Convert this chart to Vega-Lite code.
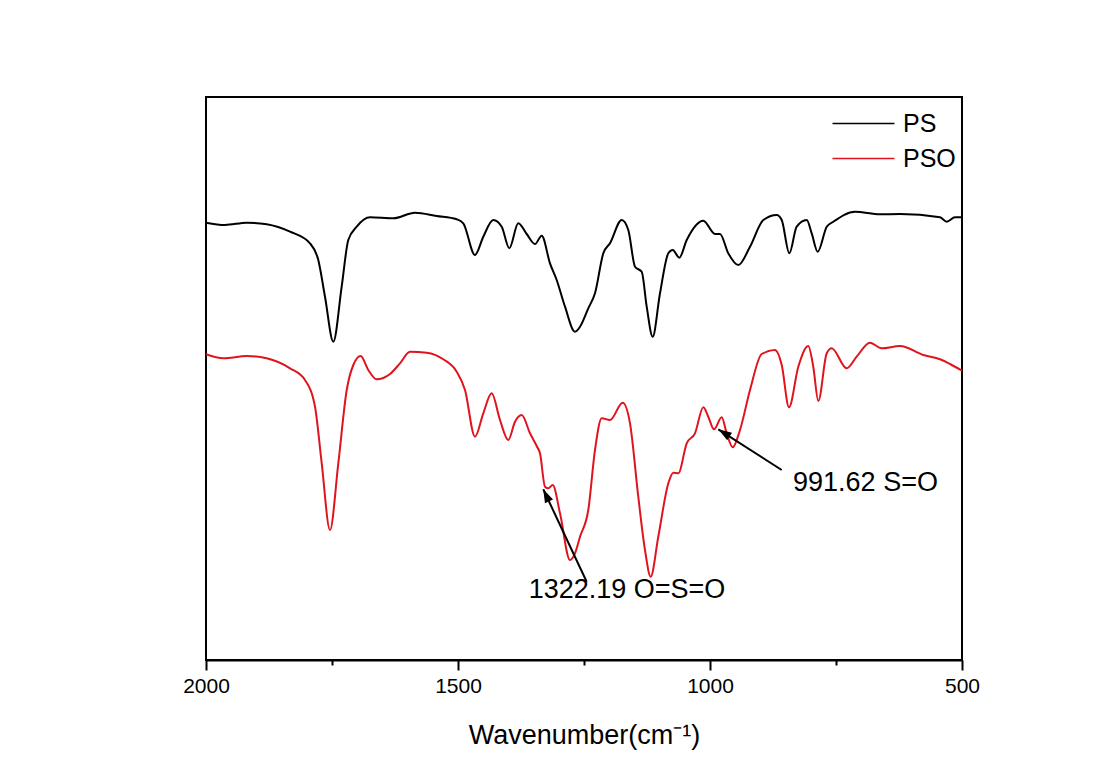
{
  "$schema": "https://vega.github.io/schema/vega-lite/v6.json",
  "width": 756,
  "height": 563,
  "autosize": {"type": "none"},
  "padding": {"left": 206, "top": 97, "right": 139, "bottom": 116},
  "background": "white",
  "config": {
    "view": {"stroke": "black", "strokeWidth": 2},
    "font": "Liberation Sans"
  },
  "datasets": {
    "spectra": [
      {"wn": 2000, "t": 437.3, "sample": "PS"},
      {"wn": 1962.3, "t": 435, "sample": "PS"},
      {"wn": 1919.2, "t": 437.3, "sample": "PS"},
      {"wn": 1879.6, "t": 435.7, "sample": "PS"},
      {"wn": 1833.3, "t": 428.3, "sample": "PS"},
      {"wn": 1793.7, "t": 416.7, "sample": "PS"},
      {"wn": 1777.2, "t": 400, "sample": "PS"},
      {"wn": 1763.9, "t": 363.3, "sample": "PS"},
      {"wn": 1747.4, "t": 318.3, "sample": "PS"},
      {"wn": 1730.8, "t": 373.3, "sample": "PS"},
      {"wn": 1717.7, "t": 420, "sample": "PS"},
      {"wn": 1701, "t": 433.3, "sample": "PS"},
      {"wn": 1674.6, "t": 442.7, "sample": "PS"},
      {"wn": 1628.4, "t": 441.7, "sample": "PS"},
      {"wn": 1585.3, "t": 447.3, "sample": "PS"},
      {"wn": 1542.3, "t": 444, "sample": "PS"},
      {"wn": 1502.6, "t": 440.7, "sample": "PS"},
      {"wn": 1489.5, "t": 436.7, "sample": "PS"},
      {"wn": 1466.3, "t": 405, "sample": "PS"},
      {"wn": 1449.8, "t": 423.3, "sample": "PS"},
      {"wn": 1430, "t": 440, "sample": "PS"},
      {"wn": 1413.3, "t": 433.3, "sample": "PS"},
      {"wn": 1398.2, "t": 411.7, "sample": "PS"},
      {"wn": 1380.4, "t": 436.7, "sample": "PS"},
      {"wn": 1363.7, "t": 426, "sample": "PS"},
      {"wn": 1347.2, "t": 416, "sample": "PS"},
      {"wn": 1333.9, "t": 424.3, "sample": "PS"},
      {"wn": 1317.5, "t": 396.7, "sample": "PS"},
      {"wn": 1304.2, "t": 380, "sample": "PS"},
      {"wn": 1287.7, "t": 353.3, "sample": "PS"},
      {"wn": 1267.9, "t": 328.3, "sample": "PS"},
      {"wn": 1257.9, "t": 333.3, "sample": "PS"},
      {"wn": 1241.5, "t": 351.7, "sample": "PS"},
      {"wn": 1228.2, "t": 366.7, "sample": "PS"},
      {"wn": 1211.7, "t": 406.7, "sample": "PS"},
      {"wn": 1198.4, "t": 416.7, "sample": "PS"},
      {"wn": 1175.2, "t": 440, "sample": "PS"},
      {"wn": 1162.1, "t": 430, "sample": "PS"},
      {"wn": 1148.8, "t": 393.3, "sample": "PS"},
      {"wn": 1135.5, "t": 388.3, "sample": "PS"},
      {"wn": 1125.6, "t": 353.3, "sample": "PS"},
      {"wn": 1113.7, "t": 323.3, "sample": "PS"},
      {"wn": 1099.2, "t": 366.7, "sample": "PS"},
      {"wn": 1082.7, "t": 406.7, "sample": "PS"},
      {"wn": 1074, "t": 410, "sample": "PS"},
      {"wn": 1060.9, "t": 402.3, "sample": "PS"},
      {"wn": 1046.2, "t": 420, "sample": "PS"},
      {"wn": 1013.3, "t": 439.3, "sample": "PS"},
      {"wn": 990.1, "t": 426, "sample": "PS"},
      {"wn": 980.2, "t": 426, "sample": "PS"},
      {"wn": 963.7, "t": 406.7, "sample": "PS"},
      {"wn": 943.8, "t": 395, "sample": "PS"},
      {"wn": 920.6, "t": 413.3, "sample": "PS"},
      {"wn": 894.2, "t": 440, "sample": "PS"},
      {"wn": 867.7, "t": 445, "sample": "PS"},
      {"wn": 857.7, "t": 440, "sample": "PS"},
      {"wn": 842.6, "t": 406.7, "sample": "PS"},
      {"wn": 828, "t": 433.3, "sample": "PS"},
      {"wn": 808.1, "t": 440, "sample": "PS"},
      {"wn": 798.2, "t": 426.7, "sample": "PS"},
      {"wn": 786.3, "t": 408.3, "sample": "PS"},
      {"wn": 768.4, "t": 433.3, "sample": "PS"},
      {"wn": 755.3, "t": 438.3, "sample": "PS"},
      {"wn": 712.3, "t": 448.3, "sample": "PS"},
      {"wn": 662.7, "t": 445.7, "sample": "PS"},
      {"wn": 623, "t": 446, "sample": "PS"},
      {"wn": 543.6, "t": 442.7, "sample": "PS"},
      {"wn": 530.3, "t": 438.3, "sample": "PS"},
      {"wn": 513.9, "t": 442.7, "sample": "PS"},
      {"wn": 500, "t": 442.7, "sample": "PS"},
      {"wn": 2000, "t": 305.7, "sample": "PSO"},
      {"wn": 1965.7, "t": 301.7, "sample": "PSO"},
      {"wn": 1919.2, "t": 304, "sample": "PSO"},
      {"wn": 1879.6, "t": 301.7, "sample": "PSO"},
      {"wn": 1833.3, "t": 291.7, "sample": "PSO"},
      {"wn": 1803.6, "t": 280, "sample": "PSO"},
      {"wn": 1783.7, "t": 253.3, "sample": "PSO"},
      {"wn": 1770.4, "t": 196.7, "sample": "PSO"},
      {"wn": 1754, "t": 130, "sample": "PSO"},
      {"wn": 1737.5, "t": 196.7, "sample": "PSO"},
      {"wn": 1720.8, "t": 270, "sample": "PSO"},
      {"wn": 1707.7, "t": 295, "sample": "PSO"},
      {"wn": 1693.1, "t": 304, "sample": "PSO"},
      {"wn": 1678, "t": 290, "sample": "PSO"},
      {"wn": 1661.3, "t": 280.7, "sample": "PSO"},
      {"wn": 1634.9, "t": 286, "sample": "PSO"},
      {"wn": 1615.1, "t": 296.7, "sample": "PSO"},
      {"wn": 1595.2, "t": 308.3, "sample": "PSO"},
      {"wn": 1562.1, "t": 307.3, "sample": "PSO"},
      {"wn": 1529.2, "t": 300.7, "sample": "PSO"},
      {"wn": 1502.6, "t": 288.3, "sample": "PSO"},
      {"wn": 1486.1, "t": 270, "sample": "PSO"},
      {"wn": 1466.3, "t": 223.3, "sample": "PSO"},
      {"wn": 1449.8, "t": 246.7, "sample": "PSO"},
      {"wn": 1433.2, "t": 266.7, "sample": "PSO"},
      {"wn": 1416.7, "t": 240, "sample": "PSO"},
      {"wn": 1400.2, "t": 220, "sample": "PSO"},
      {"wn": 1386.9, "t": 238.3, "sample": "PSO"},
      {"wn": 1373.6, "t": 245, "sample": "PSO"},
      {"wn": 1357.1, "t": 226.7, "sample": "PSO"},
      {"wn": 1343.9, "t": 214, "sample": "PSO"},
      {"wn": 1337.3, "t": 206.7, "sample": "PSO"},
      {"wn": 1327.4, "t": 173.3, "sample": "PSO"},
      {"wn": 1320.8, "t": 171.7, "sample": "PSO"},
      {"wn": 1312.1, "t": 175, "sample": "PSO"},
      {"wn": 1297.6, "t": 146.7, "sample": "PSO"},
      {"wn": 1277.8, "t": 100, "sample": "PSO"},
      {"wn": 1267.9, "t": 106.7, "sample": "PSO"},
      {"wn": 1257.9, "t": 123.3, "sample": "PSO"},
      {"wn": 1241.5, "t": 150, "sample": "PSO"},
      {"wn": 1228.2, "t": 210, "sample": "PSO"},
      {"wn": 1214.9, "t": 241.7, "sample": "PSO"},
      {"wn": 1198.4, "t": 240, "sample": "PSO"},
      {"wn": 1173.2, "t": 257.3, "sample": "PSO"},
      {"wn": 1158.7, "t": 236.7, "sample": "PSO"},
      {"wn": 1142.3, "t": 163.3, "sample": "PSO"},
      {"wn": 1129, "t": 110, "sample": "PSO"},
      {"wn": 1117.7, "t": 83.3, "sample": "PSO"},
      {"wn": 1102.6, "t": 123.3, "sample": "PSO"},
      {"wn": 1082.7, "t": 176.7, "sample": "PSO"},
      {"wn": 1072.8, "t": 187.3, "sample": "PSO"},
      {"wn": 1062.9, "t": 186.7, "sample": "PSO"},
      {"wn": 1046.2, "t": 216.7, "sample": "PSO"},
      {"wn": 1029.8, "t": 226.7, "sample": "PSO"},
      {"wn": 1013.3, "t": 252.7, "sample": "PSO"},
      {"wn": 1003.4, "t": 243.3, "sample": "PSO"},
      {"wn": 992.1, "t": 230.7, "sample": "PSO"},
      {"wn": 976.8, "t": 242.7, "sample": "PSO"},
      {"wn": 966.9, "t": 226.7, "sample": "PSO"},
      {"wn": 955, "t": 212.7, "sample": "PSO"},
      {"wn": 940.5, "t": 230, "sample": "PSO"},
      {"wn": 920.6, "t": 270, "sample": "PSO"},
      {"wn": 897.4, "t": 306, "sample": "PSO"},
      {"wn": 871, "t": 310, "sample": "PSO"},
      {"wn": 857.7, "t": 295, "sample": "PSO"},
      {"wn": 843.3, "t": 252.7, "sample": "PSO"},
      {"wn": 824.8, "t": 293.3, "sample": "PSO"},
      {"wn": 805, "t": 314, "sample": "PSO"},
      {"wn": 795.1, "t": 293.3, "sample": "PSO"},
      {"wn": 785.1, "t": 259, "sample": "PSO"},
      {"wn": 768.4, "t": 306.7, "sample": "PSO"},
      {"wn": 758.6, "t": 311.7, "sample": "PSO"},
      {"wn": 728.8, "t": 291.7, "sample": "PSO"},
      {"wn": 709, "t": 303.3, "sample": "PSO"},
      {"wn": 682.6, "t": 317.3, "sample": "PSO"},
      {"wn": 659.4, "t": 311.7, "sample": "PSO"},
      {"wn": 623, "t": 314, "sample": "PSO"},
      {"wn": 576.8, "t": 305, "sample": "PSO"},
      {"wn": 543.6, "t": 300.7, "sample": "PSO"},
      {"wn": 523.8, "t": 296, "sample": "PSO"},
      {"wn": 500, "t": 289.3, "sample": "PSO"}
    ],
    "notes": [
      {"id": "a", "label": "1322.19 O=S=O", "tipWn": 1330.8, "tipT": 170.7, "tailWn": 1244.7, "tailT": 78.3, "textWn": 1164.7, "textT": 70},
      {"id": "b", "label": "991.62 S=O", "tipWn": 983.5, "tipT": 230.7, "tailWn": 857.7, "tailT": 190, "textWn": 691.5, "textT": 177}
    ]
  },
  "resolve": {"axis": {"x": "independent"}},
  "layer": [
    {
      "data": {"name": "spectra"},
      "mark": {"type": "line", "strokeWidth": 2, "interpolate": "monotone"},
      "encoding": {
        "x": {
          "field": "wn", "type": "quantitative",
          "scale": {"domain": [500, 2000], "reverse": true, "nice": false, "zero": false},
          "axis": {
            "orient": "bottom",
            "values": [2000, 1500, 1000, 500],
            "format": "d",
            "title": "Wavenumber(cm⁻¹)",
            "grid": false,
            "domainColor": "black", "domainWidth": 2,
            "tickColor": "black", "tickWidth": 2, "tickSize": 10,
            "labelColor": "black", "labelFontSize": 21, "labelFont": "Liberation Sans",
            "labelPadding": 5, "labelFlush": false, "labelOverlap": false,
            "titleColor": "black", "titleFontSize": 27, "titleFont": "Liberation Sans",
            "titleFontWeight": "normal", "titlePadding": 26
          }
        },
        "y": {
          "field": "t", "type": "quantitative",
          "scale": {"domain": [0, 563], "nice": false, "zero": false},
          "axis": null
        },
        "color": {
          "field": "sample", "type": "nominal",
          "scale": {"domain": ["PS", "PSO"], "range": ["#000000", "#e0141c"]},
          "legend": {
            "orient": "none", "legendX": 641, "legendY": 10,
            "title": null,
            "symbolType": "M-2,0L2,0", "symbolSize": 961, "symbolStrokeWidth": 1.6,
            "symbolFillColor": "transparent",
            "labelFontSize": 25, "labelFont": "Liberation Sans", "labelColor": "black",
            "labelOffset": 23, "rowPadding": 5
          }
        }
      }
    },
    {
      "data": {"name": "notes"},
      "mark": {"type": "rule", "color": "black", "strokeWidth": 2},
      "encoding": {
        "x": {
          "field": "tipWn", "type": "quantitative",
          "axis": {
            "orient": "bottom",
            "values": [1750, 1250, 750],
            "title": null, "labels": false, "domain": false, "grid": false,
            "tickColor": "black", "tickWidth": 2, "tickSize": 5
          }
        },
        "y": {"field": "tipT", "type": "quantitative"},
        "x2": {"field": "tailWn"},
        "y2": {"field": "tailT"}
      }
    },
    {
      "data": {"name": "notes"},
      "transform": [{"filter": "datum.id === 'a'"}],
      "mark": {"type": "point", "shape": "M0,0L0.4,1.2L-0.4,1.2Z", "filled": true, "color": "black", "opacity": 1, "size": 500, "angle": 334.8},
      "encoding": {
        "x": {"field": "tipWn", "type": "quantitative", "axis": null},
        "y": {"field": "tipT", "type": "quantitative"}
      }
    },
    {
      "data": {"name": "notes"},
      "transform": [{"filter": "datum.id === 'b'"}],
      "mark": {"type": "point", "shape": "M0,0L0.4,1.2L-0.4,1.2Z", "filled": true, "color": "black", "opacity": 1, "size": 500, "angle": 302.7},
      "encoding": {
        "x": {"field": "tipWn", "type": "quantitative", "axis": null},
        "y": {"field": "tipT", "type": "quantitative"}
      }
    },
    {
      "data": {"name": "notes"},
      "mark": {"type": "text", "font": "Liberation Sans", "fontSize": 27, "color": "black", "align": "center", "baseline": "middle"},
      "encoding": {
        "x": {"field": "textWn", "type": "quantitative", "axis": null},
        "y": {"field": "textT", "type": "quantitative"},
        "text": {"field": "label"}
      }
    }
  ]
}
